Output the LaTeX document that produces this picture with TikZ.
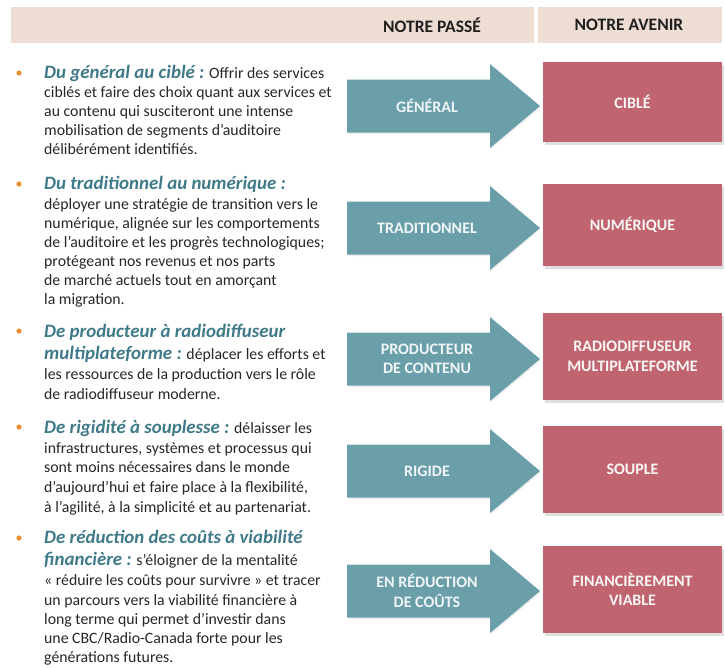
\documentclass[tikz,border=0pt]{standalone}
\usepackage{fontspec}
\setmainfont{Carlito}
\usetikzlibrary{shadows}

\definecolor{bandbeige}{HTML}{EEDDD3}
\definecolor{arrowteal}{HTML}{6A9FAA}
\definecolor{boxrose}{HTML}{C0656F}
\definecolor{dotorange}{HTML}{E8912E}
\definecolor{headteal}{HTML}{3F7A88}
\definecolor{bodyink}{HTML}{262626}

% bold italic teal lead-in of each bullet
\newcommand\hd[1]{{\bfseries\itshape\fontsize{18.9}{22}\selectfont\color{headteal}#1}}
% one line of the left-hand text column
\newcommand\txtrow[3]{\node[bodytext] (#1) at (44,#2) {#3};}
% one teal "past" arrow centred on a given height
\newcommand\pastarrowat[1]{%
  \fill[pastarrow] (347,#1-26.5) -- (490,#1-26.5) -- (490,#1-42) -- (540,#1)
    -- (490,#1+42) -- (490,#1+26.5) -- (347,#1+26.5) -- cycle;}

\begin{document}
\begin{tikzpicture}[x=1pt,y=-1pt,
  band/.style={fill=bandbeige, draw=none},
  colhead/.style={font=\bfseries\fontsize{17.5}{20}\selectfont, text=black!88},
  pastarrow/.style={fill=arrowteal, draw=none,
    drop shadow={shadow xshift=1pt, shadow yshift=-1.5pt, opacity=0.12}},
  futurebox/.style={fill=boxrose, draw=none, minimum width=179pt,
    drop shadow={shadow xshift=1.5pt, shadow yshift=-2.5pt, opacity=0.25}},
  tag/.style={font=\bfseries\fontsize{16}{19.5}\selectfont, align=center, inner sep=0pt},
  pasttag/.style={tag, text=white!90!arrowteal},
  futuretag/.style={tag, text=white!94!boxrose},
  bodytext/.style={anchor=base west, inner sep=0pt,
    font=\fontsize{15.8}{19}\selectfont, text=bodyink},
  bullet/.style={circle, fill=dotorange, draw=none, inner sep=0pt, minimum size=5.2pt}
]
\useasboundingbox (0,0) rectangle (725,667);

% column headings
\fill[band] (11,7) rectangle (534,43);
\fill[band] (538,7) rectangle (722,43);
\node[colhead] (hpast) at (432,25) {NOTRE PASSÉ};
\node[colhead] (hfuture) at (629,25) {NOTRE AVENIR};

% past arrows
\pastarrowat{106}
\pastarrowat{228}
\pastarrowat{359}
\pastarrowat{471}
\pastarrowat{591}
\node[pasttag] (p1) at (427,106) {GÉNÉRAL};
\node[pasttag] (p2) at (427,228) {TRADITIONNEL};
\node[pasttag] (p3) at (427,359) {PRODUCTEUR\\DE CONTENU};
\node[pasttag] (p4) at (427,471) {RIGIDE};
\node[pasttag] (p5) at (427,591) {EN RÉDUCTION\\DE COÛTS};

% future boxes
\node[futurebox, minimum height=80pt] (f1) at (632.5,102) {};
\node[futurebox, minimum height=82pt] (f2) at (632.5,225) {};
\node[futurebox, minimum height=87pt] (f3) at (632.5,356.5) {};
\node[futurebox, minimum height=87pt] (f4) at (632.5,469.5) {};
\node[futurebox, minimum height=87pt] (f5) at (632.5,589.5) {};
\node[futuretag] (g1) at (f1) {CIBLÉ};
\node[futuretag] (g2) at (f2) {NUMÉRIQUE};
\node[futuretag] (g3) at (f3) {RADIODIFFUSEUR\\MULTIPLATEFORME};
\node[futuretag] (g4) at (f4) {SOUPLE};
\node[futuretag] (g5) at (f5) {FINANCIÈREMENT\\VIABLE};

% bullets
\node[bullet] (d1) at (19,73) {};
\node[bullet] (d2) at (19,184) {};
\node[bullet] (d3) at (19,331) {};
\node[bullet] (d4) at (19,427) {};
\node[bullet] (d5) at (19,538) {};

% text of the first bullet
\txtrow{a1}{78}{\hd{Du général au ciblé :} Offrir des services}
\txtrow{a2}{97}{ciblés et faire des choix quant aux services et}
\txtrow{a3}{116}{au contenu qui susciteront une intense}
\txtrow{a4}{135}{mobilisation de segments d’auditoire}
\txtrow{a5}{154}{délibérément identifiés.}

% text of the second bullet
\txtrow{b1}{189}{\hd{Du traditionnel au numérique :}}
\txtrow{b2}{209}{déployer une stratégie de transition vers le}
\txtrow{b3}{228}{numérique, alignée sur les comportements}
\txtrow{b4}{247}{de l’auditoire et les progrès technologiques;}
\txtrow{b5}{266}{protégeant nos revenus et nos parts}
\txtrow{b6}{285}{de marché actuels tout en amorçant}
\txtrow{b7}{304}{la migration.}

% text of the third bullet
\txtrow{c1}{337}{\hd{De producteur à radiodiffuseur}}
\txtrow{c2}{359}{\hd{multiplateforme :} déplacer les efforts et}
\txtrow{c3}{379}{les ressources de la production vers le rôle}
\txtrow{c4}{399}{de radiodiffuseur moderne.}

% text of the fourth bullet
\txtrow{e1}{433}{\hd{De rigidité à souplesse :} délaisser les}
\txtrow{e2}{453}{infrastructures, systèmes et processus qui}
\txtrow{e3}{472}{sont moins nécessaires dans le monde}
\txtrow{e4}{492}{d’aujourd’hui et faire place à la flexibilité,}
\txtrow{e5}{512}{à l’agilité, à la simplicité et au partenariat.}

% text of the fifth bullet
\txtrow{h1}{543}{\hd{De réduction des coûts à viabilité}}
\txtrow{h2}{565}{\hd{financière :} s’éloigner de la mentalité}
\txtrow{h3}{585}{« réduire les coûts pour survivre » et tracer}
\txtrow{h4}{605}{un parcours vers la viabilité financière à}
\txtrow{h5}{624}{long terme qui permet d’investir dans}
\txtrow{h6}{643}{une CBC/Radio-Canada forte pour les}
\txtrow{h7}{662}{générations futures.}
\end{tikzpicture}
\end{document}
